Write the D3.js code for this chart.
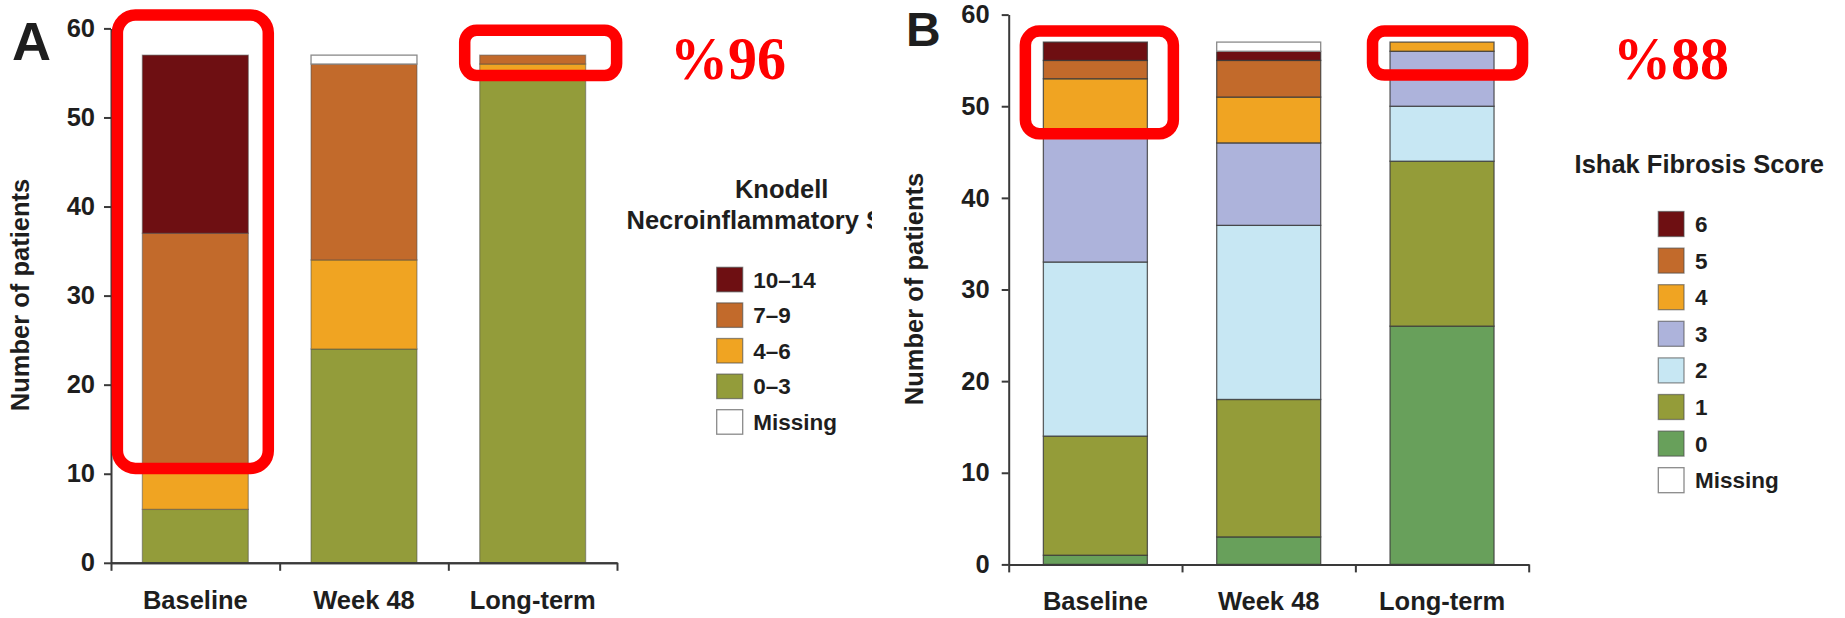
<!DOCTYPE html>
<html>
<head>
<meta charset="utf-8">
<script src="https://cdn.jsdelivr.net/npm/d3@7"></script>
<style>
body { margin: 0; background: #fff; }
svg { display: block; }
text { font-family: "Liberation Sans", Arial, sans-serif; font-weight: bold; fill: #1e1e1e; }
</style>
</head>
<body>
<svg id="chart" width="1845" height="618"></svg>
<script>
var categories = ["Baseline", "Week 48", "Long-term"];
var yTicks = [0, 10, 20, 30, 40, 50, 60];

// Knodell necroinflammatory score, stacked bottom -> top
var knodellKeys = ["0–3", "4–6", "7–9", "10–14", "Missing"];
var knodell0to3 = [6, 24, 55];
var knodell4to6 = [5, 10, 1];
var knodell7to9 = [26, 22, 1];
var knodell10to14 = [20, 0, 0];
var knodellMissing = [0, 1, 0];
var knodellColors = ["#939c3a", "#f0a422", "#c26a2b", "#6e0f12", "#ffffff"];

// Ishak fibrosis score, stacked bottom -> top
var ishakKeys = ["0", "1", "2", "3", "4", "5", "6", "Missing"];
var ishak0 = [1, 3, 26];
var ishak1 = [13, 15, 18];
var ishak2 = [19, 19, 6];
var ishak3 = [14, 9, 6];
var ishak4 = [6, 5, 1];
var ishak5 = [2, 4, 0];
var ishak6 = [2, 1, 0];
var ishakMissing = [0, 1, 0];
var ishakColors = ["#68a05b", "#949c39", "#c7e7f3", "#adb3db", "#f0a422", "#c26a2b", "#6e0f12", "#ffffff"];

var conf = {
    fontSize: 25.5,
    legendFont: 22.5,
    axisColor: "#3a3a3a",
    highlight: "#ff0000"
};

var panelA = {
    x0: 111, x1: 617, yTop: 28.4, yBottom: 562.8,
    barRatio: 0.628, tickPad: 9,
    barStroke: "#4a4a4a", barStrokeOpacity: 0.45,
    letter: "A", letterX: 12, letterY: 60, letterSize: 54,
    titleX: 29, titleY: 295,
    legend: {titles: ["Knodell", "Necroinflammatory Score"], titleX: 781.7, titleY: 198, titleGap: 30.5,
        clipRight: 872, boxX: 716.7, boxY: 267.3, boxW: 26, boxH: 24.5, step: 35.6, labelX: 753.3}
};

var panelB = {
    x0: 1008.7, x1: 1528.7, yTop: 14.6, yBottom: 564.4,
    barRatio: 0.6, tickPad: 12,
    barStroke: "#3a3a3a", barStrokeOpacity: 0.8,
    letter: "B", letterX: 906, letterY: 46, letterSize: 48,
    titleX: 923, titleY: 289,
    legend: {titles: ["Ishak Fibrosis Score"], titleX: 1699.3, titleY: 173.4, titleGap: 0,
        clipRight: 1845, boxX: 1658.3, boxY: 211.5, boxW: 25.7, boxH: 25, step: 36.6, labelX: 1695}
};

// highlighted regions: category, value range and padding around the bar
var highlightsA = [
    {category: "Baseline", top: 61.5, bottom: 10.6, padL: 25, padR: 20, rx: 18},
    {category: "Long-term", top: 59.8, bottom: 54.7, padL: 15, padR: 31, rx: 12}
];
var highlightsB = [
    {category: "Baseline", top: 58.2, bottom: 47.0, padL: 18, padR: 26, rx: 14},
    {category: "Long-term", top: 58.2, bottom: 53.4, padL: 17.5, padR: 28.5, rx: 12}
];
var percentLabels = [{text: "%96", x: 670, y: 78.5}, {text: "%88", x: 1613, y: 78.5}];

var buildRows = function(keys, series){
    return categories.map(function(c, i){
        var row = {category: c};
        keys.forEach(function(k, j){ row[k] = series[j][i]; });
        return row;
    });
};

var svg = d3.select("#chart");
svg.append("rect").attr("width", 1845).attr("height", 618).attr("fill", "#fff");

var drawPanel = function(panel, keys, colors, rows, highlights){
    var g = svg.append("g");
    var x = d3.scaleBand().domain(categories).range([panel.x0, panel.x1]).padding(0);
    var y = d3.scaleLinear().domain([0, 60]).range([panel.yBottom, panel.yTop]);
    var bw = x.bandwidth() * panel.barRatio;
    var off = (x.bandwidth() - bw) / 2;

    var stacked = d3.stack().keys(keys)(rows);
    stacked.forEach(function(layer, i){
        g.append("g").selectAll("rect")
            .data(layer.filter(function(d){ return d[1] > d[0]; }))
            .enter().append("rect")
            .attr("x", function(d){ return x(d.data.category) + off; })
            .attr("y", function(d){ return y(d[1]); })
            .attr("width", bw)
            .attr("height", function(d){ return y(d[0]) - y(d[1]); })
            .attr("fill", colors[i])
            .attr("stroke", keys[i] === "Missing" ? "#8a8a8a" : panel.barStroke)
            .attr("stroke-opacity", keys[i] === "Missing" ? 1 : panel.barStrokeOpacity)
            .attr("stroke-width", 1.3);
    });

    // y axis
    var yAxis = g.append("g")
        .attr("transform", "translate(" + panel.x0 + ",0)")
        .call(d3.axisLeft(y).tickValues(yTicks).tickSize(7).tickSizeOuter(0).tickPadding(panel.tickPad));
    // x axis labels centred in bands, ticks at band boundaries
    var xAxis = g.append("g")
        .attr("transform", "translate(0," + panel.yBottom + ")")
        .call(d3.axisBottom(x).tickSize(0).tickPadding(27.8));
    var edges = d3.scaleLinear().domain([0, categories.length]).range([panel.x0, panel.x1]);
    var xTicks = g.append("g")
        .attr("transform", "translate(0," + panel.yBottom + ")")
        .call(d3.axisBottom(edges).tickValues(d3.range(categories.length + 1)).tickFormat("").tickSize(8).tickSizeOuter(0));

    [yAxis, xAxis, xTicks].forEach(function(a){
        a.selectAll("path, line").attr("stroke", conf.axisColor).attr("stroke-width", 2);
        a.selectAll("text")
            .style("font-family", "'Liberation Sans', Arial, sans-serif")
            .style("font-weight", "bold")
            .style("font-size", conf.fontSize + "px")
            .attr("fill", "#1e1e1e");
    });

    g.append("text")
        .attr("transform", "translate(" + panel.titleX + "," + panel.titleY + ") rotate(-90)")
        .attr("text-anchor", "middle")
        .style("font-size", conf.fontSize + "px")
        .text("Number of patients");

    g.append("text")
        .attr("x", panel.letterX)
        .attr("y", panel.letterY)
        .style("font-size", panel.letterSize + "px")
        .attr("fill", "#111")
        .text(panel.letter);

    // legend
    var lg = panel.legend;
    var clipId = "clip" + panel.letter;
    svg.append("clipPath").attr("id", clipId)
        .append("rect").attr("x", 0).attr("y", 0).attr("width", lg.clipRight).attr("height", 618);
    var legend = g.append("g").attr("clip-path", "url(#" + clipId + ")");
    lg.titles.forEach(function(t, i){
        legend.append("text")
            .attr("x", lg.titleX)
            .attr("y", lg.titleY + i * lg.titleGap)
            .attr("text-anchor", "middle")
            .style("font-size", conf.fontSize + "px")
            .text(t);
    });
    var order = keys.slice(0, keys.length - 1).reverse().concat(["Missing"]);
    order.forEach(function(k, i){
        var ci = keys.indexOf(k);
        var yy = lg.boxY + i * lg.step;
        legend.append("rect")
            .attr("x", lg.boxX).attr("y", yy)
            .attr("width", lg.boxW).attr("height", lg.boxH)
            .attr("fill", colors[ci])
            .attr("stroke", k === "Missing" ? "#8a8a8a" : "#4a4a4a")
            .attr("stroke-opacity", k === "Missing" ? 1 : 0.6)
            .attr("stroke-width", 1.3);
        legend.append("text")
            .attr("x", lg.labelX)
            .attr("y", yy + lg.boxH / 2 + 8)
            .style("font-size", conf.legendFont + "px")
            .text(k);
    });

    // red highlight boxes
    highlights.forEach(function(h){
        g.append("rect")
            .attr("x", x(h.category) + off - h.padL)
            .attr("y", y(h.top))
            .attr("width", bw + h.padL + h.padR)
            .attr("height", y(h.bottom) - y(h.top))
            .attr("rx", h.rx).attr("ry", h.rx)
            .attr("fill", "none")
            .attr("stroke", conf.highlight)
            .attr("stroke-width", 11.5);
    });
};

drawPanel(panelA, knodellKeys,
    knodellColors, buildRows(knodellKeys, [knodell0to3, knodell4to6, knodell7to9, knodell10to14, knodellMissing]),
    highlightsA);
drawPanel(panelB, ishakKeys,
    ishakColors, buildRows(ishakKeys, [ishak0, ishak1, ishak2, ishak3, ishak4, ishak5, ishak6, ishakMissing]),
    highlightsB);

percentLabels.forEach(function(p){
    svg.append("text")
        .attr("x", p.x)
        .attr("y", p.y)
        .attr("textLength", 116)
        .attr("lengthAdjust", "spacingAndGlyphs")
        .style("font-family", "'Liberation Serif', 'Times New Roman', serif")
        .style("font-size", "61px")
        .style("font-weight", "bold")
        .style("fill", conf.highlight)
        .text(p.text);
});
</script>
</body>
</html>
